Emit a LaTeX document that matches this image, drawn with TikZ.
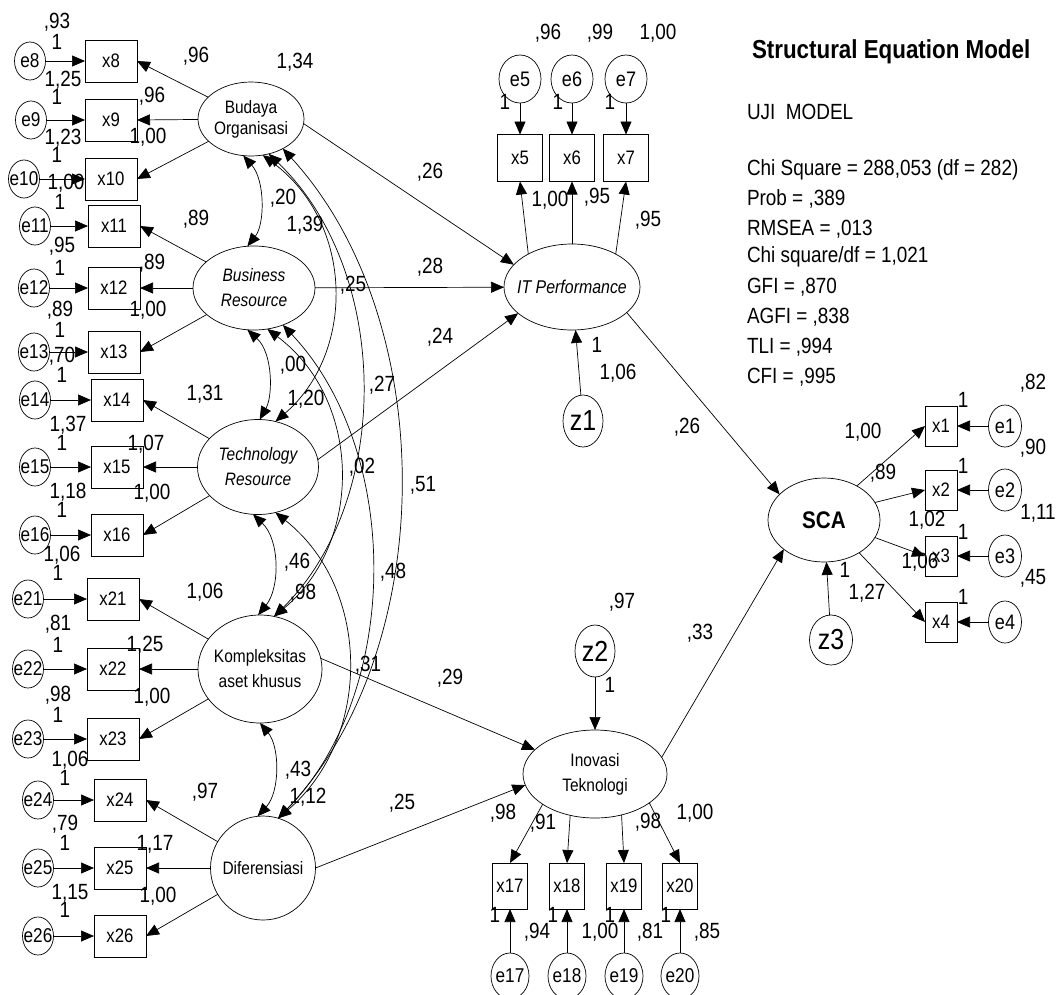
\documentclass[tikz,border=0pt]{standalone}
\usepackage{fontspec}
\setmainfont{Liberation Sans}[FakeStretch=0.86]
\usetikzlibrary{arrows.meta,shapes.geometric}
\newcommand\fsz[1]{\fontsize{#1}{#1}\selectfont}
\newcommand\fszb[2]{\fontsize{#1}{#2}\selectfont}

% one indicator row of the left column: box, error term, error arrow
\newcommand\leftrow[6]{%
  \node[obsL] (#1) at (#2,#3) {#5};
  \node[errL, label={[ef]center:#6}] (e#1) at (#4,#3) {};
  \draw[arr] (e#1) -- (#1);
}

\begin{document}
\begin{tikzpicture}[x=1pt,y=-1pt,
  >={Triangle[length=13pt,width=11pt]},
  every node/.style={inner sep=0pt, outer sep=0pt},
  arr/.style={line width=0.7pt,->},
  cov/.style={line width=0.7pt,<->},
  obs/.style={draw, line width=0.7pt, rectangle, font=\fsz{19.5}},
  obsL/.style={obs, minimum width=52pt, minimum height=42pt},
  err/.style={draw, line width=0.7pt, ellipse},
  errL/.style={err, minimum width=31pt, minimum height=38pt},
  ef/.style={font=\fsz{20}, inner sep=0pt},
  zf/.style={font=\fsz{29}, inner sep=0pt},
  lat/.style={draw, line width=0.7pt, ellipse},
  lt/.style={font={\fszb{18}{25}}, align=center, inner sep=0pt},
  lti/.style={font={\fszb{18}{25}\itshape}, align=center, inner sep=0pt},
  lab/.style={font=\fsz{22}},
  stat/.style={anchor=west, font=\fsz{22}}
]
\clip (0,0) rectangle (1060,994);
\fill[white] (0,0) rectangle (1060,994);

% ---------- exogenous latent constructs ----------
\node[lat, minimum width=106pt, minimum height=74pt,
  label={[lt, font={\fszb{18}{21}}]center:{Budaya\\Organisasi}}] (B) at (251,119) {};
\node[lat, minimum width=122pt, minimum height=84pt,
  label={[lti]center:{Business\\Resource}}] (R) at (254,288) {};
\node[lat, minimum width=121pt, minimum height=95pt,
  label={[lti]center:{Technology\\Resource}}] (T) at (258,467) {};
\node[lat, minimum width=124pt, minimum height=108pt,
  label={[lt]center:{Kompleksitas\\aset khusus}}] (K) at (260,669) {};
\node[lat, minimum width=105pt, minimum height=104pt,
  label={[lt]center:Diferensiasi}] (D) at (263,868) {};

% ---------- endogenous constructs ----------
\node[lat, minimum width=136pt, minimum height=86pt,
  label={[lti, font={\fszb{18.5}{22}\itshape}]center:IT Performance}] (IT) at (572,287) {};
\node[lat, minimum width=144pt, minimum height=88pt,
  label={[lt]center:{Inovasi\\Teknologi}}] (IN) at (595,774) {};
\node[lat, minimum width=112pt, minimum height=84pt,
  label={[font={\fsz{24}\bfseries}]center:SCA}] (SCA) at (824,520) {};

% ---------- disturbances ----------
\node[err, minimum width=40pt, minimum height=52pt, label={[zf]center:z1}] (z1) at (583,421) {};
\node[err, minimum width=40pt, minimum height=52pt, label={[zf]center:z2}] (z2) at (595,651) {};
\node[err, minimum width=43pt, minimum height=50pt, label={[zf]center:z3}] (z3) at (831,640) {};
\draw[arr] (z1) -- (IT);
\draw[arr] (z2) -- (IN);
\draw[arr] (z3) -- (SCA);

% ---------- left indicators ----------
\leftrow{x8}{111}{61}{30}{x8}{e8}
\leftrow{x9}{111}{120}{31}{x9}{e9}
\leftrow{x10}{111}{179}{24}{x10}{e10}
\leftrow{x11}{114}{226}{35}{x11}{e11}
\leftrow{x12}{114}{288}{34}{x12}{e12}
\leftrow{x13}{114}{352}{34}{x13}{e13}
\leftrow{x14}{117}{400}{35}{x14}{e14}
\leftrow{x15}{117}{467}{35}{x15}{e15}
\leftrow{x16}{117}{535}{35}{x16}{e16}
\leftrow{x21}{113}{599}{28}{x21}{e21}
\leftrow{x22}{113}{669}{28}{x22}{e22}
\leftrow{x23}{113}{739}{28}{x23}{e23}
\leftrow{x24}{120}{800}{38}{x24}{e24}
\leftrow{x25}{120}{868}{38}{x25}{e25}
\leftrow{x26}{120}{936}{38}{x26}{e26}

\foreach \s/\a/\b/\c in {B/x8/x9/x10, R/x11/x12/x13, T/x14/x15/x16, K/x21/x22/x23, D/x24/x25/x26} {
  \draw[arr] (\s) -- (\a.east);
  \draw[arr] (\s) -- (\b.east);
  \draw[arr] (\s) -- (\c.east);
}

% ---------- IT Performance indicators ----------
\foreach \n/\x in {5/520, 6/572, 7/626} {
  \node[obs, minimum width=45pt, minimum height=47pt] (x\n) at (\x,158) {x\n};
  \node[err, minimum width=42pt, minimum height=48pt, label={[ef, font=\fsz{21}]center:e\n}] (e\n) at (\x,79) {};
  \draw[arr] (e\n) -- (x\n);
}
\draw[arr] (IT.143) -- (x5.south);
\draw[arr] (IT.90) -- (x6.south);
\draw[arr] (IT.37) -- (x7.south);

% ---------- Inovasi Teknologi indicators ----------
\foreach \n/\x in {17/510, 18/567, 19/624, 20/680} {
  \node[obs, minimum width=35pt, minimum height=46pt] (x\n) at (\x,886) {x\n};
  \node[err, minimum width=38pt, minimum height=46pt, label={[ef]center:e\n}] (e\n) at (\x,976) {};
  \draw[arr] (e\n) -- (x\n);
}
\draw[arr] (IN.-150) -- (x17.north);
\draw[arr] (IN.-121) -- (x18.north);
\draw[arr] (IN.-57) -- (x19.north);
\draw[arr] (IN.-28) -- (x20.north);

% ---------- SCA indicators ----------
\foreach \n/\y in {1/426, 2/490, 3/556, 4/622} {
  \node[obs, minimum width=32pt, minimum height=40pt] (x\n) at (941,\y) {x\n};
  \node[err, minimum width=33pt, minimum height=42pt, label={[ef, font=\fsz{21}]center:e\n}] (e\n) at (1005,\y) {};
  \draw[arr] (e\n) -- (x\n);
}
\draw[arr] (SCA.46) -- (x1.west);
\draw[arr] (SCA.19) -- (x2.west);
\draw[arr] (SCA.-19) -- (x3.west);
\draw[arr] (SCA.-43) -- (x4.west);

% ---------- structural paths ----------
\draw[arr] (B.-5) -- (IT.159);
\draw[arr] (R) -- (IT);
\draw[arr] (T.7) -- (IT.-154);
\draw[arr] (K.10) -- (IN.158);
\draw[arr] (D.0) -- (IN.-171);
\draw[arr] (IT.-25) -- (SCA.150);
\draw[arr] (IN.14) -- (SCA.-144);

% ---------- covariances among exogenous constructs ----------
\draw[cov] (B.-102) .. controls (265,180) and (265,224) .. (R.99);
\draw[cov] (R.-99) .. controls (273,353) and (273,396) .. (T.88);
\draw[cov] (T.-96) .. controls (280,540) and (280,588) .. (K.92);
\draw[cov] (K.-90) .. controls (280,747) and (280,792) .. (D.96);
\draw[cov] (B.-72) .. controls (355,224) and (355,353) .. (T.69);
\draw[cov] (B.-63) .. controls (392,272) and (392,500) .. (K.75);
\draw[cov] (B.-43) .. controls (440,320) and (440,649) .. (D.73);
\draw[cov] (R.-72) .. controls (363,401) and (363,543) .. (K.75);
\draw[cov] (R.-52) .. controls (402,451) and (402,692) .. (D.73);
\draw[cov] (T.-69) .. controls (372,589) and (372,738) .. (D.73);

% ---------- fit summary ----------
\node[anchor=west, font={\fsz{26}\bfseries}] (title) at (752,52) {Structural Equation Model};
\node[stat] (s0) at (747,112) {UJI\ \ MODEL};
\node[stat] (s1) at (747,170) {Chi Square = 288,053 (df = 282)};
\node[stat] (s2) at (747,199) {Prob = ,389};
\node[stat] (s3) at (747,229) {RMSEA = ,013};
\node[stat] (s4) at (747,257) {Chi square/df = 1,021};
\node[stat] (s5) at (747,287) {GFI = ,870};
\node[stat] (s6) at (747,317) {AGFI = ,838};
\node[stat] (s7) at (747,347) {TLI = ,994};
\node[stat] (s8) at (747,377) {CFI = ,995};

% ---------- estimates: left column ----------
\node[lab] (a1) at (57,22) {,93};
\node[lab] (a2) at (57,42) {1};
\node[lab] (a3) at (63,80) {1,25};
\node[lab] (a4) at (57,97) {1};
\node[lab] (a5) at (152,96) {,96};
\node[lab] (a6) at (148,137) {1,00};
\node[lab] (a7) at (63,138) {1,23};
\node[lab] (a8) at (57,155) {1};
\node[lab] (a9) at (66,183) {1,00};
\node[lab] (a10) at (60,202) {1};
\node[lab] (a11) at (196,56) {,96};
\node[lab] (a12) at (295,62) {1,34};
\node[lab] (a13) at (283,198) {,20};
\node[lab] (a14) at (196,219) {,89};
\node[lab] (a15) at (305,225) {1,39};
\node[lab] (a16) at (62,246) {,95};
\node[lab] (a17) at (60,268) {1};
\node[lab] (a18) at (152,263) {,89};
\node[lab] (a19) at (148,310) {1,00};
\node[lab] (a20) at (60,310) {,89};
\node[lab] (a21) at (60,330) {1};
\node[lab] (a22) at (62,356) {,70};
\node[lab] (a23) at (62,375) {1};
\node[lab] (a24) at (205,394) {1,31};
\node[lab] (a25) at (68,425) {1,37};
\node[lab] (a26) at (62,443) {1};
\node[lab] (a27) at (146,444) {1,07};
\node[lab] (a28) at (293,365) {,00};
\node[lab] (a29) at (306,399) {1,20};
\node[lab] (a30) at (68,492) {1,18};
\node[lab] (a31) at (152,493) {1,00};
\node[lab] (a32) at (62,510) {1};
\node[lab] (a33) at (62,555) {1,06};
\node[lab] (a34) at (58,573) {1};
\node[lab] (a35) at (205,592) {1,06};
\node[lab] (a36) at (58,624) {,81};
\node[lab] (a37) at (58,645) {1};
\node[lab] (a38) at (145,645) {1,25};
\node[lab] (a39) at (58,695) {,98};
\node[lab] (a40) at (152,697) {1,00};
\node[lab] (a41) at (58,715) {1};
\node[lab] (a42) at (297,562) {,46};
\node[lab] (a43) at (303,593) {,98};
\node[lab] (a44) at (70,760) {1,06};
\node[lab] (a45) at (65,778) {1};
\node[lab] (a46) at (205,792) {,97};
\node[lab] (a47) at (65,824) {,79};
\node[lab] (a48) at (65,843) {1};
\node[lab] (a49) at (155,844) {1,17};
\node[lab] (a50) at (70,893) {1,15};
\node[lab] (a51) at (65,910) {1};
\node[lab] (a52) at (158,896) {1,00};
\node[lab] (a53) at (298,770) {,43};
\node[lab] (a54) at (308,797) {1,12};

% ---------- estimates: middle ----------
\node[lab] (b1) at (353,285) {,25};
\node[lab] (b2) at (382,385) {,27};
\node[lab] (b3) at (362,467) {,02};
\node[lab] (b4) at (423,485) {,51};
\node[lab] (b5) at (393,572) {,48};
\node[lab] (b6) at (368,665) {,31};
\node[lab] (b7) at (450,678) {,29};
\node[lab] (b8) at (440,337) {,24};
\node[lab] (b9) at (430,172) {,26};
\node[lab] (b10) at (430,267) {,28};
\node[lab] (b11) at (597,345) {1};
\node[lab] (b12) at (618,373) {1,06};
\node[lab] (b13) at (687,427) {,26};
\node[lab] (b14) at (622,602) {,97};
\node[lab] (b15) at (610,685) {1};
\node[lab] (b16) at (700,633) {,33};
\node[lab] (b17) at (402,803) {,25};

% ---------- estimates: IT Performance block ----------
\node[lab] (c1) at (548,33) {,96};
\node[lab] (c2) at (600,33) {,99};
\node[lab] (c3) at (658,33) {1,00};
\node[lab] (c4) at (505,102) {1};
\node[lab] (c5) at (558,102) {1};
\node[lab] (c6) at (610,102) {1};
\node[lab] (c7) at (550,200) {1,00};
\node[lab] (c8) at (597,197) {,95};
\node[lab] (c9) at (648,220) {,95};

% ---------- estimates: SCA block ----------
\node[lab] (d1) at (963,400) {1};
\node[lab] (d2) at (963,466) {1};
\node[lab] (d3) at (963,532) {1};
\node[lab] (d4) at (963,597) {1};
\node[lab] (d5) at (1033,383) {,82};
\node[lab] (d6) at (1033,448) {,90};
\node[lab] (d7) at (1038,513) {1,11};
\node[lab] (d8) at (1033,578) {,45};
\node[lab] (d9) at (863,432) {1,00};
\node[lab] (d10) at (883,473) {,89};
\node[lab] (d11) at (927,520) {1,02};
\node[lab] (d12) at (920,562) {1,06};
\node[lab] (d13) at (867,593) {1,27};
\node[lab] (d14) at (845,570) {1};

% ---------- estimates: Inovasi Teknologi block ----------
\node[lab] (f1) at (503,813) {,98};
\node[lab] (f2) at (543,823) {,91};
\node[lab] (f3) at (648,822) {,98};
\node[lab] (f4) at (695,813) {1,00};
\node[lab] (f5) at (495,915) {1};
\node[lab] (f6) at (537,932) {,94};
\node[lab] (f7) at (553,915) {1};
\node[lab] (f8) at (600,932) {1,00};
\node[lab] (f9) at (610,915) {1};
\node[lab] (f10) at (650,932) {,81};
\node[lab] (f11) at (666,915) {1};
\node[lab] (f12) at (707,932) {,85};
\end{tikzpicture}
\end{document}
